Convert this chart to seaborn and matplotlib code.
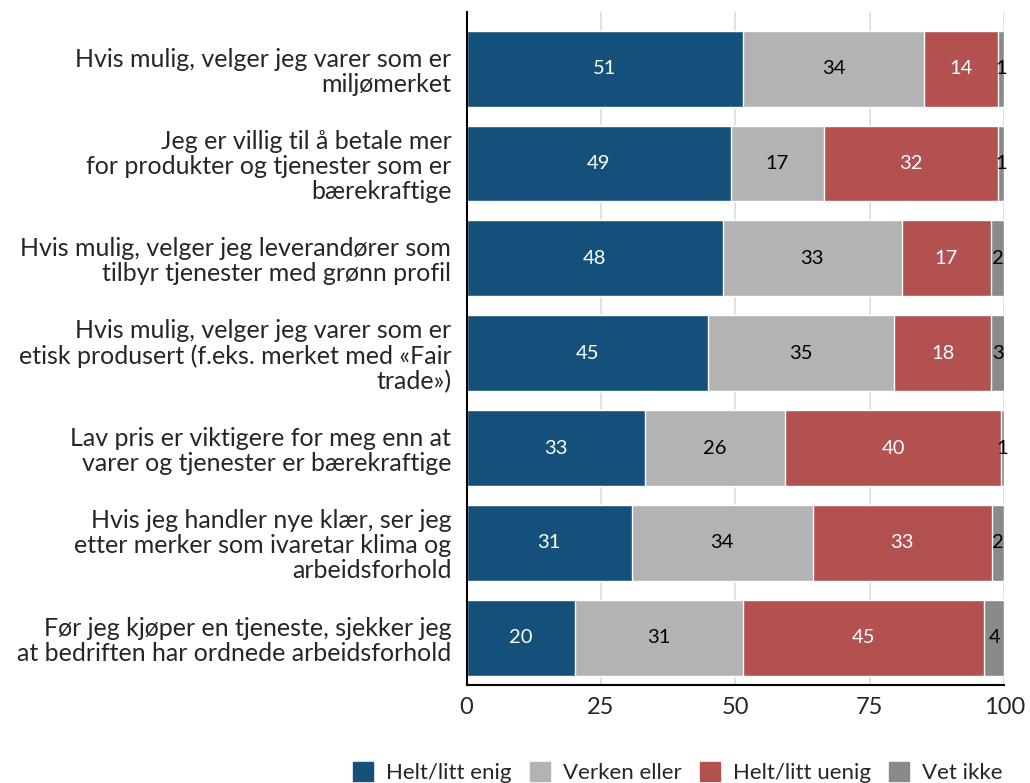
import pandas as pd
import matplotlib.pyplot as plt
import seaborn as sns

# statements (top to bottom)
statements = [
    'Hvis mulig, velger jeg varer som er\nmiljømerket',
    'Jeg er villig til å betale mer\nfor produkter og tjenester som er\nbærekraftige',
    'Hvis mulig, velger jeg leverandører som\ntilbyr tjenester med grønn profil',
    'Hvis mulig, velger jeg varer som er\netisk produsert (f.eks. merket med «Fair\ntrade»)',
    'Lav pris er viktigere for meg enn at\nvarer og tjenester er bærekraftige',
    'Hvis jeg handler nye klær, ser jeg\netter merker som ivaretar klima og\narbeidsforhold',
    'Før jeg kjøper en tjeneste, sjekker jeg\nat bedriften har ordnede arbeidsforhold',
]

series = ['Helt/litt enig', 'Verken eller', 'Helt/litt uenig', 'Vet ikke']

# percentages
enig = [51.4, 49.2, 47.6, 44.9, 33.1, 30.7, 20.1]
verken = [33.7, 17.2, 33.3, 34.6, 26.2, 33.7, 31.4]
uenig = [13.8, 32.4, 16.7, 18.1, 40.1, 33.3, 44.8]
vet_ikke = [1.1, 1.2, 2.4, 2.6, 0.6, 2.3, 3.7]

colors = ['#15507b', '#b3b3b3', '#b35050', '#8a8a8a']
text_colors = ['white', 'black', 'white', 'black']

df = pd.DataFrame({'statement': statements, 'Helt/litt enig': enig,
                   'Verken eller': verken, 'Helt/litt uenig': uenig,
                   'Vet ikke': vet_ikke})
cum = df[series].cumsum(axis=1)

sns.set_style('white')
plt.rcParams['font.family'] = ['Lato', 'DejaVu Sans']

fig = plt.figure(figsize=(10.3, 7.83), dpi=100)
ax = fig.add_axes([0.453, 0.125, 0.522, 0.86])

# stacked bars: draw the cumulative totals from the back to the front
for s, c in reversed(list(zip(series, colors))):
    sns.barplot(x=cum[s], y=df['statement'], orient='h', color=c,
                width=0.8, saturation=1, ax=ax, zorder=2)

# value labels in the middle of each segment
for s, tc in zip(series, text_colors):
    mids = cum[s] - df[s] / 2
    for i, (m, v) in enumerate(zip(mids, df[s])):
        ax.text(m, i, f'{v:.0f}', ha='center', va='center',
                color=tc, fontsize=14.5, zorder=3)

ax.set_xlim(0, 100)
ax.set_ylim(6.5, -0.6)
ax.set_xticks([0, 25, 50, 75, 100])
ax.set_xlabel('')
ax.set_ylabel('')
ax.xaxis.grid(True, color='#dedede', linewidth=1.3, zorder=0)
ax.set_axisbelow(True)
sns.despine(ax=ax, top=True, right=True)
ax.spines['left'].set_color('black')
ax.spines['bottom'].set_color('black')
ax.spines['left'].set_linewidth(1.5)
ax.spines['bottom'].set_linewidth(1.5)
ax.tick_params(axis='x', length=5, width=1.5, labelsize=17, color='black')
ax.tick_params(axis='y', length=0, labelsize=18, pad=11)
for lab in ax.get_yticklabels():
    lab.set_linespacing(1.1)

handles = [plt.Rectangle((0, 0), 1, 1, color=c) for c in colors]
fig.legend(handles, series, loc='center', bbox_to_anchor=(0.658, 0.013),
           ncol=4, frameon=False, fontsize=16, handlelength=0.9,
           handleheight=0.9, columnspacing=0.8, handletextpad=0.6)

fig.savefig('out.png', dpi=100)
